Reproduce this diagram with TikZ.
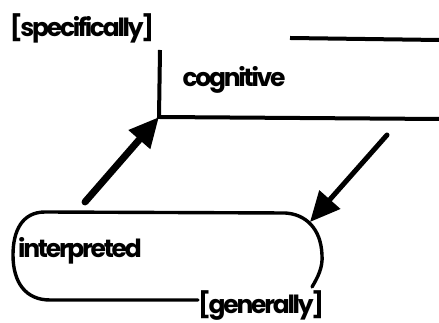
\documentclass[tikz,border=0pt]{standalone}
\usepackage{fontspec}
\setmainfont{Poppins}[LetterSpace=-9]
\usetikzlibrary{positioning}
\usetikzlibrary{arrows.meta}

\begin{document}
\begin{tikzpicture}[x=1pt, y=1pt,
    word/.style={inner sep=0pt, font=\fontsize{25}{25}\selectfont\bfseries},
    rule/.style={line width=4pt},
    loop/.style={line width=3.4pt, line cap=round},
    link/.style={line cap=round, >={Triangle[length=30pt,width=27pt]}}]
    \useasboundingbox (0,0) rectangle (439,323);
    \coordinate (corner) at (159,206);
    \coordinate (post-top) at (160,273);
    \coordinate (floor-end) at (439,204);
    \coordinate (roof-start) at (290,285);
    \coordinate (roof-end) at (439,283);
    \coordinate (loop-end) at (198,23);
    \coordinate (loop-start) at (312,36);
    \coordinate (loop-nw) at (85,121);
    \coordinate (loop-ne) at (310,101);
    \coordinate (from-right) at (387,188);
    \node[word] (specifically) at (82,295) {[specifically]};
    \node[word] (cognitive) at (234,243) {cognitive};
    \node[word] (interpreted) at (80,72) {interpreted};
    \node[word] (generally) [right=0pt of loop-end, yshift=-6pt] {[generally]};

\draw[rule] (post-top) -- (corner) -- (floor-end);
\draw[rule] (roof-start) -- (roof-end);
\draw[loop] (loop-start) .. controls (318,46) and (323,56) .. (322,68)
    .. controls (321,95) and (305,109) .. (285,110) -- (45,111)
    .. controls (22,111) and (13,92) .. (13,68)
    .. controls (13,40) and (26,23) .. (50,23) -- (loop-end);
\draw[link, line width=7pt, ->] (loop-nw) -- (corner);
\draw[link, line width=5pt, ->] (from-right) -- (loop-ne);
\end{tikzpicture}
\end{document}
